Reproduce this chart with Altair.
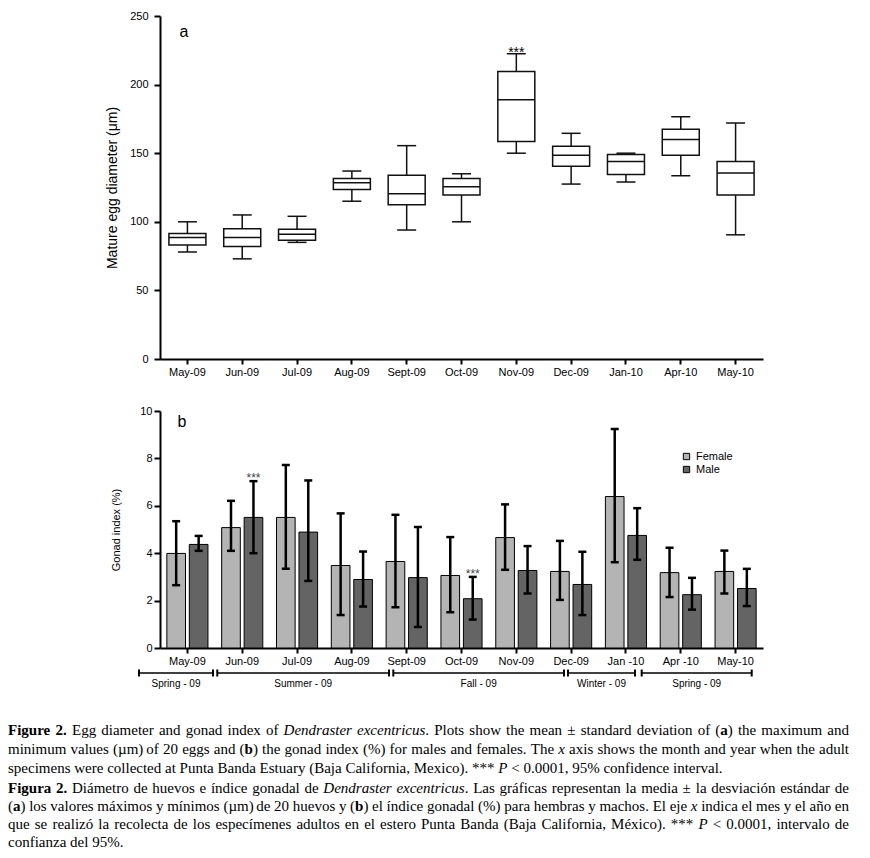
import re
import altair as alt
import pandas as pd

# ---------------- data ----------------
months = ["May-09", "Jun-09", "Jul-09", "Aug-09", "Sept-09", "Oct-09",
          "Nov-09", "Dec-09", "Jan-10", "Apr-10", "May-10"]
months_b = ["May-09", "Jun-09", "Jul-09", "Aug-09", "Sept-09", "Oct-09",
            "Nov-09", "Dec-09", "Jan -10", "Apr -10", "May-10"]

egg_whisker_lo = [78, 73, 85, 115, 94, 100, 150, 127.5, 129, 133.5, 90.5]
egg_q1 = [83, 82, 86.5, 123.5, 112.5, 119.5, 158.5, 140.5, 134.5, 148.5, 119.5]
egg_median = [88.5, 88.5, 91, 128.5, 120.5, 125.5, 189, 148.5, 144, 160, 135.5]
egg_q3 = [91.5, 95, 94.5, 131.5, 134, 131.5, 209.5, 155, 149, 167.5, 144]
egg_whisker_hi = [100, 105, 104, 137, 155.5, 135, 222.5, 164.5, 150, 176.5, 172]
egg_significant = ["Nov-09"]

female_mean = [3.99, 5.08, 5.51, 3.48, 3.65, 3.06, 4.66, 3.23, 6.39, 3.18, 3.23]
female_lo = [2.65, 4.10, 3.34, 1.39, 1.72, 1.51, 3.30, 2.03, 3.62, 2.15, 2.30]
female_hi = [5.35, 6.21, 7.72, 5.68, 5.62, 4.68, 6.06, 4.52, 9.24, 4.23, 4.11]
male_mean = [4.37, 5.51, 4.89, 2.89, 2.97, 2.08, 3.27, 2.68, 4.75, 2.25, 2.51]
male_lo = [4.10, 4.00, 2.83, 1.75, 0.89, 1.20, 2.30, 1.39, 3.72, 1.62, 1.77]
male_hi = [4.73, 7.04, 7.07, 4.07, 5.11, 3.00, 4.30, 4.06, 5.90, 2.96, 3.34]
gonad_significant = [("Jun-09", "Male"), ("Oct-09", "Male")]

sexes = ["Female", "Male"]
season_names = ["Spring - 09", "Summer - 09", "Fall - 09", "Winter - 09", "Spring - 09"]
# season spans, in month-index units (0 = first month)
season_start = [-0.883, 0.545, 3.756, 6.943, 8.287]
season_end = [0.467, 3.677, 6.870, 8.165, 10.294]

# caption text; {b:...} bold, {i:...} italic
caption_en = [
    "{b:Figure} {b:2.} Egg diameter and gonad index of {i:Dendraster} {i:excentricus}. Plots show the mean ± standard deviation of ({b:a}) the maximum and",
    "minimum values (µm) of 20 eggs and ({b:b}) the gonad index (%) for males and females. The {i:x} axis shows the month and year when the adult",
    "specimens were collected at Punta Banda Estuary (Baja California, Mexico). *** {i:P} < 0.0001, 95% confidence interval.",
]
caption_es = [
    "{b:Figura} {b:2.} Diámetro de huevos e índice gonadal de {i:Dendraster} {i:excentricus}. Las gráficas representan la media ± la desviación estándar de",
    "({b:a}) los valores máximos y mínimos (µm) de 20 huevos y ({b:b}) el índice gonadal (%) para hembras y machos. El eje {i:x} indica el mes y el año en",
    "que se realizó la recolecta de los especímenes adultos en el estero Punta Banda (Baja California, México). *** {i:P} < 0.0001, intervalo de",
    "confianza del 95%.",
]

# ---------------- styling ----------------
SANS = "Liberation Sans, Arial"
SERIF = "Liberation Serif, Times New Roman"
INK = "#111111"
FS_CAP = 15

# ---------------- caption typesetting (Times metrics) ----------------
LOW = "abcdefghijklmnopqrstuvwxyz"
UP = "ABCDEFGHIJKLMNOPQRSTUVWXYZ"
W = {
    "n": dict(zip(LOW, [444, 500, 444, 500, 444, 333, 500, 500, 278, 278, 500, 278, 778, 500, 500, 500, 500, 333, 389, 278, 500, 500, 722, 500, 500, 444])),
    "i": dict(zip(LOW, [500, 500, 444, 500, 444, 278, 500, 500, 278, 278, 444, 278, 722, 500, 500, 500, 500, 389, 389, 278, 500, 444, 667, 444, 444, 389])),
    "b": dict(zip(LOW, [500, 556, 444, 556, 444, 333, 500, 556, 278, 333, 556, 278, 833, 556, 500, 556, 556, 444, 389, 333, 556, 500, 722, 500, 500, 444])),
}
W["n"].update(dict(zip(UP, [722, 667, 667, 722, 611, 556, 722, 722, 333, 389, 722, 611, 889, 722, 722, 556, 722, 667, 556, 611, 722, 722, 944, 722, 722, 611])))
W["i"].update(dict(zip(UP, [611, 611, 667, 722, 611, 611, 722, 722, 333, 444, 667, 556, 833, 667, 722, 611, 722, 611, 500, 556, 722, 611, 833, 611, 556, 556])))
W["b"].update(dict(zip(UP, [722, 667, 722, 722, 667, 611, 778, 778, 389, 500, 778, 667, 944, 722, 778, 611, 778, 722, 556, 667, 722, 722, 1000, 722, 722, 667])))
PUNCT = {" ": 250, ".": 250, ",": 250, "(": 333, ")": 333, "%": 833, "±": 564, "µ": 500,
         "<": 564, "*": 500, "-": 333, "á": 444, "é": 444, "í": 278, "ó": 500, "ñ": 500, "ú": 500}
for st in W:
    W[st].update(PUNCT)
    W[st].update({d: 500 for d in "0123456789"})


def text_w(t, st):
    return sum(W[st].get(c, 500) for c in t) * FS_CAP / 1000.0


def parse_word(word):
    segs = []
    for part in re.split(r"(\{[bi]:[^}]*\})", word):
        if not part:
            continue
        m = re.match(r"\{([bi]):([^}]*)\}", part)
        segs.append((m.group(2), m.group(1)) if m else (part, "n"))
    return segs


def typeset(lines, y0, dy, x0, x1, last_left=True):
    out = []
    for k, line in enumerate(lines):
        words = [parse_word(w) for w in line.split(" ")]
        widths = [sum(text_w(t, s) for t, s in w) for w in words]
        space = W["n"][" "] * FS_CAP / 1000.0
        gaps = len(words) - 1
        natural = sum(widths) + gaps * space
        justify = not (last_left and k == len(lines) - 1)
        gap = space + ((x1 - x0 - natural) / gaps if (justify and gaps) else 0)
        x = x0
        for w, wd in zip(words, widths):
            xx = x
            for t, s in w:
                out.append({"x": xx, "y": y0 + k * dy, "t": t, "s": s})
                xx += text_w(t, s)
            x += wd + gap
    return out


OX, OY = 161, 411  # page position of panel b plot origin
cap_rows = typeset(caption_en, 730, 18.85, 9, 850) + typeset(caption_es, 787.7, 18.1, 9, 850)
cap_df = pd.DataFrame(cap_rows)
cap_df["x"] = cap_df["x"] - OX
cap_df["y"] = cap_df["y"] - OY

# ---------------- panel a ----------------
egg = pd.DataFrame({"month": months, "lo": egg_whisker_lo, "q1": egg_q1,
                    "med": egg_median, "q3": egg_q3, "hi": egg_whisker_hi})

xa = alt.X("month:N", sort=months,
           scale=alt.Scale(paddingInner=0.25, paddingOuter=0.125),
           axis=alt.Axis(title=None, labelAngle=0, tickSize=5, labelPadding=2))


def ya(field):
    return alt.Y(field, scale=alt.Scale(domain=[0, 250], nice=False),
                 axis=alt.Axis(values=[0, 50, 100, 150, 200, 250], title="Mature egg diameter (μm)",
                               tickSize=6, labelPadding=6, titlePadding=10, titleFontSize=14))


ebase = alt.Chart(egg)
whisk = ebase.mark_rule(color=INK, strokeWidth=1.5).encode(x=xa, y=ya("lo:Q"), y2="hi:Q")
cap_lo = ebase.mark_tick(size=19, thickness=1.5, color=INK, opacity=1).encode(x=xa, y=ya("lo:Q"))
cap_hi = ebase.mark_tick(size=19, thickness=1.5, color=INK, opacity=1).encode(x=xa, y=ya("hi:Q"))
box = ebase.mark_bar(size=37, fill="white", stroke=INK, strokeWidth=1.5).encode(
    x=xa, y=ya("q1:Q"), y2="q3:Q")
med = ebase.mark_tick(size=37, thickness=1.5, color=INK, opacity=1).encode(x=xa, y=ya("med:Q"))
stars_a = alt.Chart(egg[egg["month"].isin(egg_significant)]).mark_text(
    text="***", font=SANS, fontSize=14, baseline="alphabetic", dy=3, color="black").encode(
    x=xa, y=ya("hi:Q"))
label_a = alt.Chart(alt.Data(values=[{}])).mark_text(
    text="a", font=SANS, fontSize=16, align="center", baseline="middle", color="black").encode(
    x=alt.value(24), y=alt.value(16))

panel_a = alt.layer(whisk, cap_lo, cap_hi, box, med, stars_a, label_a).properties(width=603, height=343)

# ---------------- panel b ----------------
rows = []
for i, m in enumerate(months_b):
    rows.append({"month": m, "sex": "Female", "mean": female_mean[i], "lo": female_lo[i], "hi": female_hi[i]})
    rows.append({"month": m, "sex": "Male", "mean": male_mean[i], "lo": male_lo[i], "hi": male_hi[i]})
gonad = pd.DataFrame(rows)
sig_idx = [(months_b[months.index(m)], s) for m, s in gonad_significant]
gonad_sig = gonad[[(m, s) in sig_idx for m, s in zip(gonad["month"], gonad["sex"])]]

xb = alt.X("month:N", sort=months_b,
           scale=alt.Scale(paddingInner=0.25, paddingOuter=0.125),
           axis=alt.Axis(title=None, labelAngle=0, tickSize=5, labelPadding=2))
xo = alt.XOffset("sex:N", sort=sexes, scale=alt.Scale(paddingInner=0.17, paddingOuter=0))


def yb(field):
    return alt.Y(field, scale=alt.Scale(domain=[0, 10], nice=False),
                 axis=alt.Axis(values=[0, 2, 4, 6, 8, 10], title="Gonad index (%)",
                               tickSize=6, labelPadding=2, titlePadding=18, titleFontSize=11))


gbase = alt.Chart(gonad)
bars = gbase.mark_bar(stroke="black", strokeWidth=1).encode(
    x=xb, xOffset=xo, y=yb("mean:Q"),
    fill=alt.Fill("sex:N", scale=alt.Scale(domain=sexes, range=["#b4b4b4", "#646464"]),
                  legend=alt.Legend(title=None, orient="none", legendX=521, legendY=435,
                                    symbolType="square", symbolSize=40, symbolStrokeColor="black",
                                    symbolStrokeWidth=1, labelFont=SANS, labelFontSize=11,
                                    labelColor="black", rowPadding=1, labelOffset=4)))
err = gbase.mark_rule(color="black", strokeWidth=2.5).encode(x=xb, xOffset=xo, y=yb("lo:Q"), y2="hi:Q")
ecap_lo = gbase.mark_tick(size=8, thickness=2.5, color="black", opacity=1).encode(
    x=xb, xOffset=xo, y=yb("lo:Q"))
ecap_hi = gbase.mark_tick(size=8, thickness=2.5, color="black", opacity=1).encode(
    x=xb, xOffset=xo, y=yb("hi:Q"))
stars_b = alt.Chart(gonad_sig).mark_text(
    text="***", font=SANS, fontSize=12, baseline="alphabetic", dy=1, color="#444444").encode(
    x=xb, xOffset=xo, y=yb("hi:Q"))
label_b = alt.Chart(alt.Data(values=[{}])).mark_text(
    text="b", font=SANS, fontSize=16, align="center", baseline="middle", color="black").encode(
    x=alt.value(22), y=alt.value(11))

inner_b = alt.layer(bars, err, ecap_lo, ecap_hi, stars_b, label_b)

seasons = pd.DataFrame({"name": season_names, "start": season_start, "end": season_end})
sscale = alt.Scale(domain=[-0.5, len(months) - 0.5], nice=False, zero=False)
sbase = alt.Chart(seasons)
s_line = sbase.mark_rule(color="black", strokeWidth=1.5).encode(
    x=alt.X("start:Q", scale=sscale, axis=None), x2="end:Q", y=alt.value(262))
s_caps = sbase.transform_fold(["start", "end"], as_=["edge", "pos"]).mark_rule(
    color="black", strokeWidth=2).encode(
    x=alt.X("pos:Q", scale=sscale, axis=None), y=alt.value(258.5), y2=alt.value(265.5))
s_text = sbase.transform_calculate(mid="(datum.start + datum.end) / 2").mark_text(
    font=SANS, fontSize=10, baseline="middle", color="black").encode(
    x=alt.X("mid:Q", scale=sscale, axis=None), y=alt.value(272.5), text="name:N")

cap_layers = []
for st, fw, fs in [("n", "normal", "normal"), ("b", "bold", "normal"), ("i", "normal", "italic")]:
    cap_layers.append(
        alt.Chart(cap_df[cap_df["s"] == st]).mark_text(
            font=SERIF, fontSize=FS_CAP, fontWeight=fw, fontStyle=fs,
            align="left", baseline="middle", color="black").encode(
            x=alt.X("x:Q", scale=None), y=alt.Y("y:Q", scale=None), text="t:N"))

panel_b = alt.layer(inner_b, s_line, s_caps, s_text, *cap_layers).resolve_scale(
    x="independent", y="independent").properties(width=603, height=237)

chart = alt.vconcat(panel_a, panel_b, spacing=28).properties(
    padding={"left": 0, "top": 2, "right": 0, "bottom": 0}
).configure_view(stroke=None).configure_axis(
    domainColor="black", domainWidth=2, tickColor="black", tickWidth=2,
    labelColor="black", labelFont=SANS, labelFontSize=11,
    titleColor="black", titleFont=SANS, titleFontWeight="normal", grid=False
)

chart.save("out.html", embed_options={"renderer": "svg", "actions": False})
